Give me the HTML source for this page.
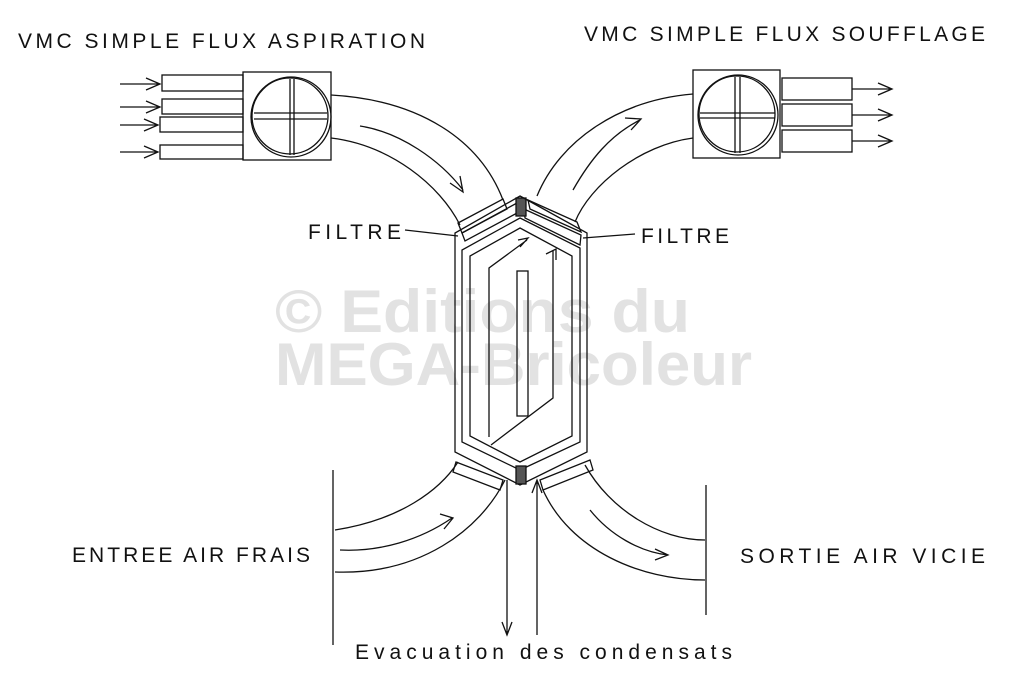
<!DOCTYPE html>
<html><head><style>
html,body{margin:0;padding:0;background:#fff;}
svg{display:block;}
text{font-family:"Liberation Sans",sans-serif;fill:#111;}
.w{font-weight:bold;fill:#e2e2e2;font-size:60px;}
.l{font-size:21px;}
</style></head><body>
<svg width="1024" height="678" viewBox="0 0 1024 678" xmlns="http://www.w3.org/2000/svg">
<text class="w" x="275" y="332" textLength="415" lengthAdjust="spacingAndGlyphs">© Editions du</text>
<text class="w" x="275" y="385" textLength="477" lengthAdjust="spacingAndGlyphs">MEGA-Bricoleur</text>
<g fill="none" stroke="#111" stroke-width="1.3">
<rect x="243" y="72" width="88" height="88"/>
<circle cx="290" cy="116" r="38"/><circle cx="291" cy="117" r="40"/>
<line x1="290" y1="79" x2="290" y2="155"/><line x1="254" y1="113" x2="327" y2="113"/><line x1="254" y1="119" x2="327" y2="119"/><line x1="294" y1="79" x2="294" y2="155"/>
<rect x="162" y="75" width="81" height="16"/><rect x="162" y="99" width="81" height="15"/>
<rect x="160" y="117" width="83" height="15"/><rect x="160" y="145" width="83" height="14"/>
<path d="M120 84H160M146 78L160 84L146 90M120 107H160M146 101L160 107L146 113M120 125H158M144 119L158 125L144 131M120 152H158M144 146L158 152L144 158"/>
<rect x="693" y="70" width="87" height="88"/>
<circle cx="737" cy="114" r="38"/><circle cx="738" cy="115" r="40"/>
<line x1="735" y1="77" x2="735" y2="153"/><line x1="740" y1="77" x2="740" y2="153"/><line x1="700" y1="113" x2="775" y2="113"/><line x1="700" y1="118" x2="775" y2="118"/>
<rect x="782" y="78" width="70" height="22"/><rect x="782" y="104" width="70" height="22"/><rect x="782" y="130" width="70" height="22"/>
<path d="M852 89H892M878 83L892 89L878 95M852 115H892M878 109L892 115L878 121M852 141H892M878 135L892 141L878 147"/>
<path d="M331 95C420 100 480 140 503 200"/>
<path d="M331 138C390 145 440 185 460 225"/>
<path d="M360 126C400 132 440 160 463 190M450 183L463 192L460 176"/>
<path d="M458 223L503 199L507 209L462 233Z"/><path d="M462 233L517 203L519 212L465 241Z"/>
<path d="M693 94C620 100 560 140 537 196"/>
<path d="M693 138C640 145 590 185 575 222"/>
<path d="M573 190C590 160 610 135 640 120M625 118L641 119L631 130"/>
<path d="M528 200L577 222L581 232L530 209Z"/><path d="M524 209L581 235L580 245L525 218Z"/>
<rect x="516" y="198" width="10" height="18" fill="#555"/>
<path d="M520 196L587 233V452L520 485L455 452V233Z"/>
<path d="M520 218L580 248V442L520 470L462 442V250Z"/>
<path d="M520 228L572 256V436L520 462L470 436V256Z"/>
<rect x="517" y="271" width="11" height="145"/>
<path d="M489 437V268L527 240M518 240L528 238L520 247M491 445L553 398V250M546 254L556 249L556 260"/>
<rect x="516" y="466" width="10" height="18" fill="#555"/>
<path d="M335 530C400 520 440 490 458 462"/><path d="M335 572C420 575 480 530 505 480"/>
<path d="M340 550C380 552 420 540 452 518M440 514L453 518L444 529"/>
<path d="M456 462L503 480L500 490L453 472Z"/>
<path d="M540 480L590 460L593 470L543 490Z"/>
<path d="M585 465C610 510 660 540 705 540"/><path d="M543 490C570 550 640 580 705 580"/>
<path d="M590 510C610 535 640 552 668 555M655 549L668 555L655 560"/>
<line x1="333" y1="470" x2="333" y2="645"/><line x1="706" y1="485" x2="706" y2="615"/>
<path d="M507 480V635M502 622L507 635L512 622M537 480V635M532 493L537 480L542 493"/>
<line x1="405" y1="230" x2="458" y2="236"/><line x1="583" y1="238" x2="635" y2="234"/>
</g>
<text class="l" x="18" y="48" textLength="407" lengthAdjust="spacing">VMC SIMPLE FLUX  ASPIRATION</text>
<text class="l" x="584" y="41" textLength="401" lengthAdjust="spacing">VMC SIMPLE FLUX  SOUFFLAGE</text>
<text class="l" x="308" y="239" textLength="93" lengthAdjust="spacing">FILTRE</text>
<text class="l" x="641" y="243" textLength="88" lengthAdjust="spacing">FILTRE</text>
<text class="l" x="72" y="562" textLength="238" lengthAdjust="spacing">ENTREE AIR FRAIS</text>
<text class="l" x="740" y="563" textLength="245" lengthAdjust="spacing">SORTIE  AIR VICIE</text>
<text class="l" x="355" y="659" textLength="377" lengthAdjust="spacing">Evacuation des condensats</text>
</svg>
</body></html>
